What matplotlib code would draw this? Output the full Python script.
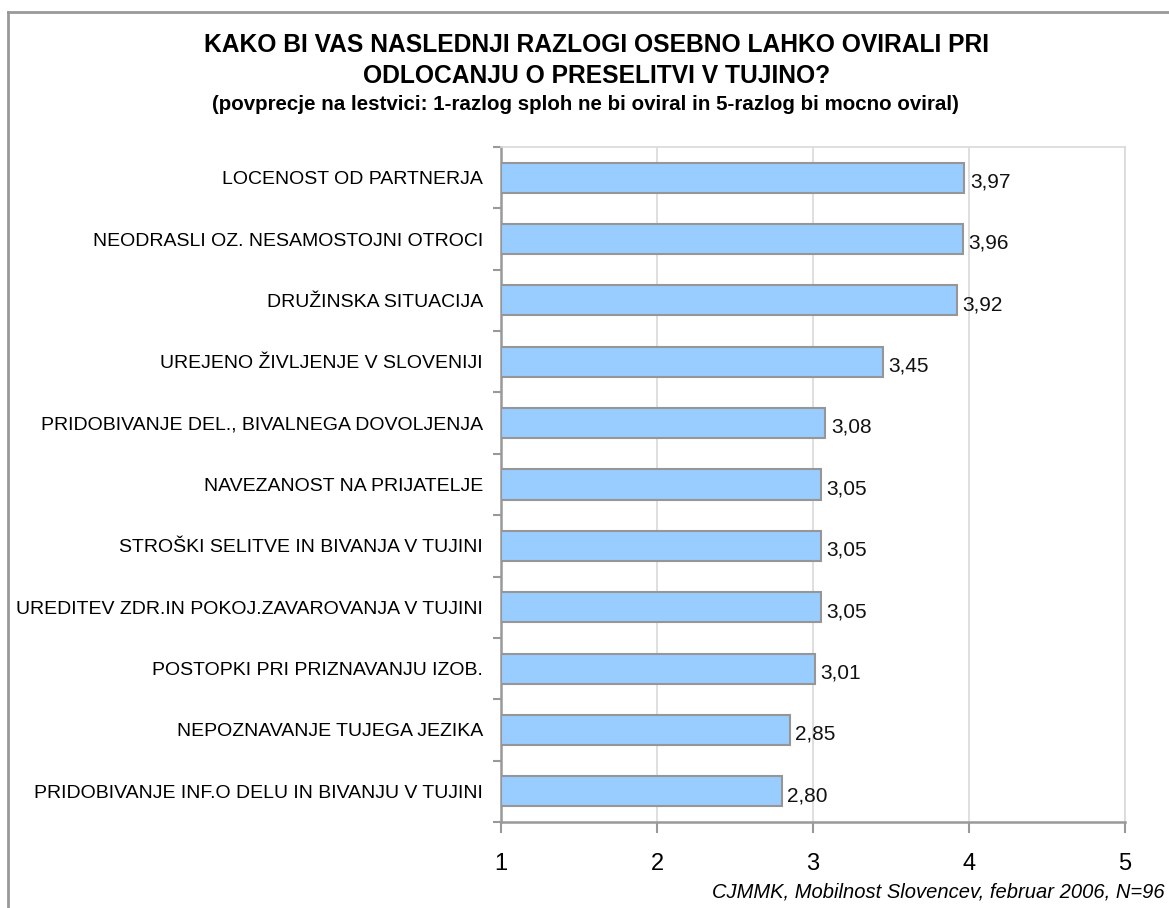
import matplotlib
matplotlib.use("Agg")
import matplotlib.pyplot as plt

plt.rcParams['font.family'] = ['Liberation Sans', 'DejaVu Sans']

categories = [
    "LOCENOST OD PARTNERJA",
    "NEODRASLI OZ. NESAMOSTOJNI OTROCI",
    "DRUŽINSKA SITUACIJA",
    "UREJENO ŽIVLJENJE V SLOVENIJI",
    "PRIDOBIVANJE DEL., BIVALNEGA DOVOLJENJA",
    "NAVEZANOST NA PRIJATELJE",
    "STROŠKI SELITVE IN BIVANJA V TUJINI",
    "UREDITEV ZDR.IN POKOJ.ZAVAROVANJA V TUJINI",
    "POSTOPKI PRI PRIZNAVANJU IZOB.",
    "NEPOZNAVANJE TUJEGA JEZIKA",
    "PRIDOBIVANJE INF.O DELU IN BIVANJU V TUJINI",
]
values = [3.97, 3.96, 3.92, 3.45, 3.08, 3.05, 3.05, 3.05, 3.01, 2.85, 2.80]
x_ticks = [1, 2, 3, 4, 5]

W, H = 1169, 908
fig = plt.figure(figsize=(W / 100, H / 100), dpi=100)

# outer frame (left and top edges)
fig.add_artist(plt.Line2D([8 / W, 8 / W], [0, 1 - 12 / H], transform=fig.transFigure,
                          color="#999999", lw=2))
fig.add_artist(plt.Line2D([8 / W, 1], [1 - 12 / H, 1 - 12 / H], transform=fig.transFigure,
                          color="#999999", lw=2))

ax_left, ax_right = 501 / W, 1125 / W
ax_top, ax_bottom = 1 - 147 / H, 1 - 822 / H
ax = fig.add_axes([ax_left, ax_bottom, ax_right - ax_left, ax_top - ax_bottom])

n = len(categories)
ypos = list(range(n))
ax.barh(ypos, [v - 1 for v in values], left=1, height=0.49,
        color="#99CCFF", edgecolor="#969696", linewidth=1.5, zorder=3)

for y, v in zip(ypos, values):
    ax.text(v + 0.035, y + 0.07, f"{v:.2f}".replace(".", ","), va="center", ha="left",
            fontsize=15, color="#111111", zorder=4)

ax.set_xlim(1, 5)
ax.set_ylim(n - 0.5, -0.5)
ax.set_xticks(x_ticks)
ax.set_xticklabels([str(t) for t in x_ticks], fontsize=17)
ax.tick_params(axis="x", length=8, width=1.5, color="#999999", pad=14)

ax.set_yticks(ypos)
ax.set_yticklabels(categories, fontsize=14)
ax.tick_params(axis="y", length=0, pad=13)
ax.set_yticks([i + 0.5 for i in range(-1, n)], minor=True)
ax.tick_params(axis="y", which="minor", length=6, width=1.5, color="#999999")

ax.grid(axis="x", color="#d9d9d9", lw=1.2, zorder=0)
ax.set_axisbelow(True)
for side in ("left", "bottom"):
    ax.spines[side].set_color("#999999")
    ax.spines[side].set_linewidth(1.8)
for side in ("top", "right"):
    ax.spines[side].set_color("#d9d9d9")
    ax.spines[side].set_linewidth(1.2)

fig.text(597 / W, 1 - 45 / H, "KAKO BI VAS NASLEDNJI RAZLOGI OSEBNO LAHKO OVIRALI PRI",
         ha="center", va="center", fontsize=17.7, fontweight="bold")
fig.text(597 / W, 1 - 76 / H, "ODLOCANJU O PRESELITVI V TUJINO?",
         ha="center", va="center", fontsize=17.7, fontweight="bold")
fig.text(585 / W, 1 - 104 / H,
         "(povprecje na lestvici: 1-razlog sploh ne bi oviral in 5-razlog bi mocno oviral)",
         ha="center", va="center", fontsize=14.8, fontweight="bold")
fig.text(1165 / W, 1 - 892 / H, "CJMMK, Mobilnost Slovencev, februar 2006, N=96",
         ha="right", va="center", fontsize=14.5, fontstyle="italic")

fig.savefig("out.png", dpi=100)
